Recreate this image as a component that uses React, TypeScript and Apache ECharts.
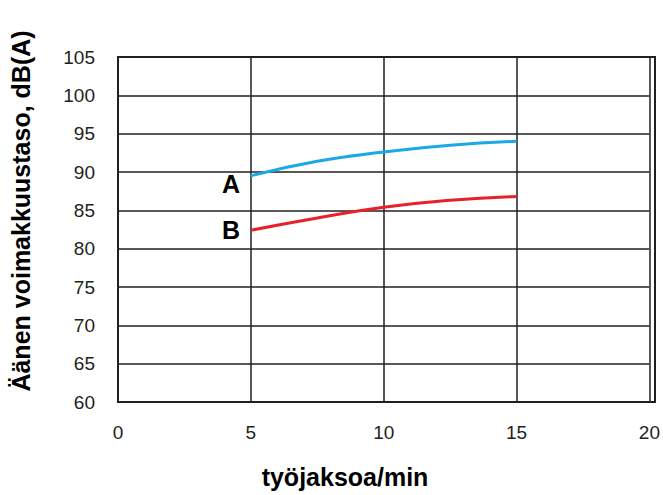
import React, { useEffect, useRef } from "react";
import * as echarts from "echarts";

const xValues = [5, 7.5, 10, 12.5, 15];
const seriesA = [89.5, 91.4, 92.6, 93.5, 94.0];
const seriesB = [82.4, 84.0, 85.4, 86.3, 86.8];
const xTicks = [0, 5, 10, 15, 20];
const yTicks = [60, 65, 70, 75, 80, 85, 90, 95, 100, 105];

export default function App() {
  const ref = useRef<HTMLDivElement>(null);
  useEffect(() => {
    const chart = echarts.init(ref.current!, null, { renderer: "svg" });
    const font = "'Liberation Sans', Arial, Helvetica, sans-serif";
    chart.setOption({
      animation: false,
      backgroundColor: "#ffffff",
      grid: { left: 118, top: 57, right: 8, bottom: 93, show: false },
      xAxis: {
        type: "value",
        min: xTicks[0],
        max: xTicks[xTicks.length - 1],
        interval: 5,
        axisLine: { show: true, lineStyle: { color: "#231f20", width: 2 } },
        axisTick: { show: false },
        axisLabel: { color: "#231f20", fontSize: 19, fontFamily: font, margin: 21 },
        splitLine: { show: true, lineStyle: { color: "#231f20", width: 1.5 } },
      },
      yAxis: {
        type: "value",
        min: yTicks[0],
        max: yTicks[yTicks.length - 1],
        interval: 5,
        axisLine: { show: true, lineStyle: { color: "#231f20", width: 2 } },
        axisTick: { show: false },
        axisLabel: { color: "#231f20", fontSize: 19, fontFamily: font, margin: 23 },
        splitLine: { show: true, lineStyle: { color: "#231f20", width: 1.5 } },
      },
      graphic: [
        {
          type: "rect",
          shape: { x: 118, y: 57, width: 537, height: 345 },
          style: { fill: "none", stroke: "#231f20", lineWidth: 2 },
          silent: true,
          z: 10,
        },
        {
          type: "text",
          x: 21,
          y: 211,
          rotation: Math.PI / 2,
          style: {
            text: "Äänen voimakkuustaso, dB(A)",
            font: `bold 25px ${font}`,
            fill: "#000",
            align: "center",
            verticalAlign: "middle",
          },
        },
        {
          type: "text",
          x: 345,
          y: 477,
          style: {
            text: "työjaksoa/min",
            font: `bold 25px ${font}`,
            fill: "#000",
            align: "center",
            verticalAlign: "middle",
          },
        },
        {
          type: "text",
          x: 231,
          y: 184,
          style: {
            text: "A",
            font: `bold 25px ${font}`,
            fill: "#000",
            align: "center",
            verticalAlign: "middle",
          },
        },
        {
          type: "text",
          x: 231,
          y: 230,
          style: {
            text: "B",
            font: `bold 25px ${font}`,
            fill: "#000",
            align: "center",
            verticalAlign: "middle",
          },
        },
      ],
      series: [
        {
          name: "A",
          type: "line",
          smooth: true,
          symbol: "none",
          data: xValues.map((x, i) => [x, seriesA[i]]),
          lineStyle: { color: "#1ba9e6", width: 3 },
          z: 5,
        },
        {
          name: "B",
          type: "line",
          smooth: true,
          symbol: "none",
          data: xValues.map((x, i) => [x, seriesB[i]]),
          lineStyle: { color: "#e8202a", width: 3 },
          z: 5,
        },
      ],
    });
    return () => chart.dispose();
  }, []);
  return (
    <div
      ref={ref}
      style={{ position: "fixed", left: 0, top: 0, width: 663, height: 495 }}
    />
  );
}
